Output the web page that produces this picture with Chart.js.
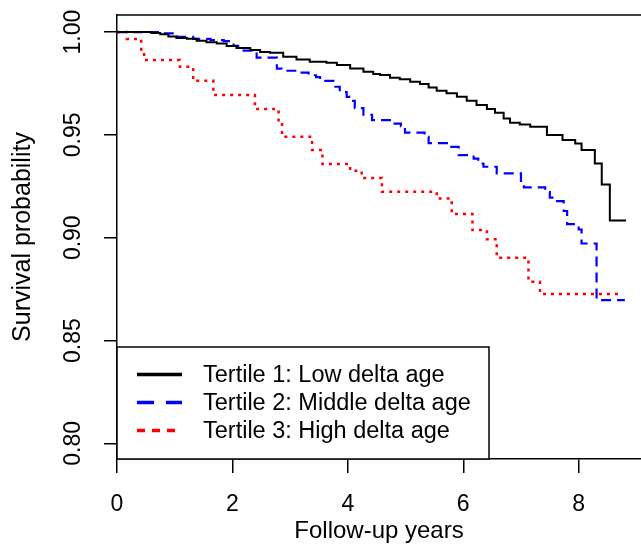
<!DOCTYPE html>
<html>
<head>
<meta charset="utf-8">
<script src="https://cdn.jsdelivr.net/npm/chart.js@4"></script>
<style>
html, body { margin: 0; padding: 0; background: #fff; }
</style>
</head>
<body>
<canvas id="myChart" width="641" height="548"></canvas>
<script>
// Kaplan-Meier curves (time in years, survival probability)
var t1Time = [0, 0.50, 0.60, 0.75, 0.89, 1.03, 1.21, 1.38, 1.55, 1.73, 1.90, 2.07, 2.31, 2.48, 2.65, 2.88, 3.11, 3.34, 3.63, 3.81, 4.04, 4.27, 4.44, 4.56, 4.73, 4.90, 5.08, 5.25, 5.40, 5.54, 5.71, 5.89, 6.06, 6.23, 6.41, 6.55, 6.70, 6.81, 6.98, 7.16, 7.45, 7.72, 7.94, 8.05, 8.28, 8.40, 8.54, 8.82];
var t1Surv = [1.000, 1.000, 0.9995, 0.9990, 0.9978, 0.9971, 0.9967, 0.9958, 0.9950, 0.9945, 0.9932, 0.9922, 0.9913, 0.9903, 0.9899, 0.9880, 0.9867, 0.9856, 0.9851, 0.9840, 0.9823, 0.9807, 0.9796, 0.9791, 0.9778, 0.9771, 0.9758, 0.9747, 0.9731, 0.9715, 0.9702, 0.9686, 0.9666, 0.9645, 0.9626, 0.9608, 0.9580, 0.9559, 0.9551, 0.9540, 0.9499, 0.9475, 0.9458, 0.9426, 0.9361, 0.9259, 0.9084, 0.9084];

var t2Time = [0, 0.75, 1.05, 1.32, 1.62, 1.85, 2.02, 2.10, 2.42, 2.77, 2.85, 3.17, 3.32, 3.45, 3.52, 3.75, 3.86, 3.98, 4.06, 4.12, 4.27, 4.42, 4.78, 4.92, 4.99, 5.33, 5.40, 5.75, 5.92, 6.18, 6.26, 6.35, 6.58, 7.00, 7.05, 7.42, 7.50, 7.57, 7.74, 7.80, 8.00, 8.05, 8.31, 8.80];
var t2Surv = [1.000, 0.9994, 0.9977, 0.9967, 0.9961, 0.9956, 0.9933, 0.9910, 0.9876, 0.9822, 0.9812, 0.9803, 0.9790, 0.9781, 0.9763, 0.9734, 0.9708, 0.9685, 0.9665, 0.9630, 0.9598, 0.9572, 0.9555, 0.9543, 0.9511, 0.9490, 0.9460, 0.9442, 0.9402, 0.9385, 0.9361, 0.9345, 0.9313, 0.9265, 0.9245, 0.9222, 0.9195, 0.9178, 0.9130, 0.9066, 0.9040, 0.8972, 0.8697, 0.8697];

var t3Time = [0, 0.17, 0.42, 0.47, 1.09, 1.32, 1.67, 2.39, 2.80, 2.86, 3.38, 3.56, 4.04, 4.24, 4.59, 5.54, 5.80, 6.16, 6.41, 6.58, 7.13, 7.33, 8.69];
var t3Surv = [1.000, 0.9966, 0.9915, 0.9864, 0.9831, 0.9763, 0.9694, 0.9626, 0.9558, 0.9491, 0.9426, 0.9358, 0.9326, 0.9291, 0.9223, 0.9191, 0.9115, 0.9037, 0.8992, 0.8902, 0.8786, 0.8726, 0.8726];

var seriesLabels = ["Tertile 1: Low delta age", "Tertile 2: Middle delta age", "Tertile 3: High delta age"];
var xTicks = [0, 2, 4, 6, 8];
var yTicks = [0.80, 0.85, 0.90, 0.95, 1.00];

Chart.defaults.font.family = "'Liberation Sans', Arial, Helvetica, sans-serif";
Chart.defaults.color = "#000";

function toPoints(times, surv) {
    return times.map(function (t, i) { return { x: t, y: surv[i] }; });
}

function makeLine(label, times, surv, color, dash, width) {
    return {
        label: label,
        data: toPoints(times, surv),
        borderColor: color,
        borderWidth: width,
        borderDash: dash,
        borderCapStyle: "butt",
        stepped: "before",
        pointRadius: 0,
        fill: false,
        tension: 0
    };
}

// dash used in the legend box (drawn thicker than the curves)
var legendDash = [[], [17, 12], [8, 7]];

var framePlugin = {
    id: "frame",
    afterDraw: function (chart) {
        var ctx = chart.ctx, a = chart.chartArea;
        ctx.save();
        ctx.strokeStyle = "#000";
        ctx.lineWidth = 1.5;
        ctx.beginPath();
        ctx.moveTo(a.left, a.top);
        ctx.lineTo(a.right, a.top);
        ctx.stroke();

        // legend box in the bottom-left corner
        var w = 372, h = 112;
        var left = a.left, top = a.bottom - h;
        ctx.fillStyle = "#fff";
        ctx.fillRect(left, top, w, h);
        ctx.strokeRect(left, top, w, h);
        ctx.font = "23.5px 'Liberation Sans', Arial, sans-serif";
        ctx.textBaseline = "middle";
        ctx.textAlign = "left";
        chart.data.datasets.forEach(function (ds, i) {
            var y = top + 29 + i * 28;
            ctx.beginPath();
            ctx.setLineDash(legendDash[i]);
            ctx.lineWidth = 3.5;
            ctx.strokeStyle = ds.borderColor;
            ctx.moveTo(left + 20, y - 1.5);
            ctx.lineTo(left + 65, y - 1.5);
            ctx.stroke();
            ctx.setLineDash([]);
            ctx.fillStyle = "#000";
            ctx.fillText(ds.label, left + 86, y);
        });
        ctx.restore();
    }
};

var myChart = new Chart(document.getElementById("myChart"), {
    type: "line",
    data: {
        datasets: [
            makeLine(seriesLabels[0], t1Time, t1Surv, "#000000", [], 2),
            makeLine(seriesLabels[1], t2Time, t2Surv, "#0000ff", [10, 6], 2.2),
            makeLine(seriesLabels[2], t3Time, t3Surv, "#ff0000", [3, 5], 2.5)
        ]
    },
    options: {
        responsive: false,
        animation: false,
        devicePixelRatio: 1,
        layout: { padding: { top: 15, left: 0, right: 0, bottom: 0 } },
        plugins: {
            legend: { display: false },
            tooltip: { enabled: false }
        },
        scales: {
            x: {
                type: "linear",
                min: 0,
                max: 9.08,
                afterBuildTicks: function (s) { s.ticks = xTicks.map(function (v) { return { value: v }; }); },
                afterFit: function (s) { s.height = 89; s.paddingLeft = 0; s.paddingRight = 0; },
                ticks: { font: { size: 23 }, color: "#000", padding: 18, maxRotation: 0 },
                grid: { drawOnChartArea: false, tickLength: 14, color: "#000", lineWidth: 1.5 },
                border: { color: "#000", width: 1.5 },
                title: { display: true, text: "Follow-up years", font: { size: 24 }, color: "#000", padding: { top: 0, bottom: 2 } }
            },
            y: {
                type: "linear",
                min: 0.7924,
                max: 1.0083,
                afterBuildTicks: function (s) { s.ticks = yTicks.map(function (v) { return { value: v }; }); },
                afterFit: function (s) { s.width = 117; s.paddingTop = 0; s.paddingBottom = 0; },
                ticks: {
                    font: { size: 23 }, color: "#000", padding: 8,
                    minRotation: 90, maxRotation: 90, crossAlign: "center",
                    callback: function (v) { return v.toFixed(2); }
                },
                grid: { drawOnChartArea: false, tickLength: 13, color: "#000", lineWidth: 1.5 },
                border: { color: "#000", width: 1.5 },
                title: { display: true, text: "Survival probability", font: { size: 25 }, color: "#000", padding: { top: 8, bottom: 0 } }
            }
        }
    },
    plugins: [framePlugin]
});
</script>
</body>
</html>
